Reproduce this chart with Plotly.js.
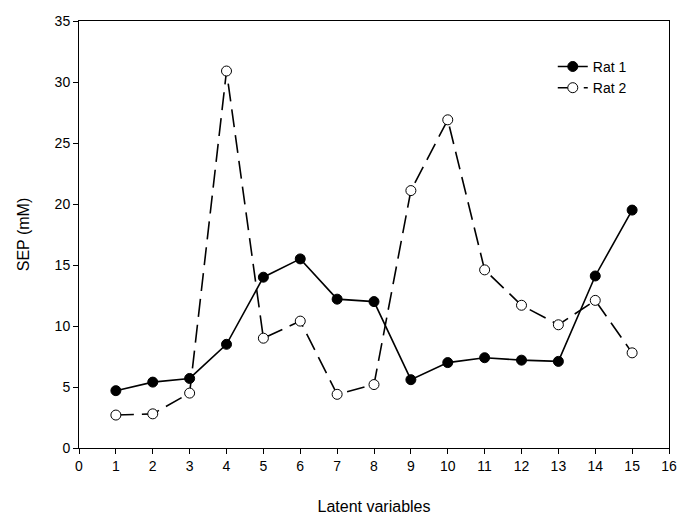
<!DOCTYPE html>
<html><head><meta charset="utf-8">
<script src="https://cdn.plot.ly/plotly-3.0.1.min.js"></script>
<style>html,body{margin:0;padding:0;background:#fff}</style>
</head><body><div id="chart" style="width:682px;height:517px"></div>
<script>
const latentVars = [1,2,3,4,5,6,7,8,9,10,11,12,13,14,15];
const rat1 = [4.7,5.4,5.7,8.5,14.0,15.5,12.2,12.0,5.6,7.0,7.4,7.2,7.1,14.1,19.5];
const rat2 = [2.7,2.8,4.5,30.9,9.0,10.4,4.4,5.2,21.1,26.9,14.6,11.7,10.1,12.1,7.8];
const xTicks = [0,1,2,3,4,5,6,7,8,9,10,11,12,13,14,15,16];
const yTicks = [0,5,10,15,20,25,30,35];

const traces = [
  {x: latentVars, y: rat1, name: 'Rat 1', mode: 'lines+markers', type: 'scatter',
   line: {color: '#000', width: 1.6},
   marker: {symbol: 'circle', size: 10, color: '#000', line: {color: '#000', width: 1}}},
  {x: latentVars, y: rat2, name: 'Rat 2', mode: 'lines+markers', type: 'scatter',
   line: {color: '#000', width: 1.6, dash: '18px,8px'},
   marker: {symbol: 'circle', size: 10, color: '#fff', line: {color: '#000', width: 1}}}
];
const layout = {
  width: 682, height: 517,
  margin: {l: 79, r: 13, t: 21, b: 69},
  paper_bgcolor: '#fff', plot_bgcolor: '#fff',
  font: {family: 'Liberation Sans, Arial, sans-serif', size: 14, color: '#000'},
  showlegend: true,
  legend: {x: 0.803, y: 0.93, xanchor: 'left', yanchor: 'top', bgcolor: 'rgba(0,0,0,0)',
           font: {size: 14}, itemwidth: 30, tracegroupgap: 0},
  xaxis: {range: [0, 16], tickvals: xTicks, ticktext: xTicks.map(String),
          ticks: 'outside', ticklen: 5, tickwidth: 1, tickcolor: '#000',
          showline: true, linecolor: '#000', linewidth: 1, mirror: true,
          showgrid: false, zeroline: false, tickfont: {size: 14},
          title: {text: 'Latent variables', font: {size: 16}, standoff: 28}},
  yaxis: {range: [0, 35], tickvals: yTicks, ticktext: yTicks.map(String),
          ticks: 'outside', ticklen: 5, tickwidth: 1, tickcolor: '#000',
          showline: true, linecolor: '#000', linewidth: 1, mirror: true,
          showgrid: false, zeroline: false, tickfont: {size: 14},
          title: {text: 'SEP (mM)', font: {size: 16}, standoff: 21}}
};
Plotly.newPlot('chart', traces, layout, {displayModeBar: false, staticPlot: true});
</script></body></html>
